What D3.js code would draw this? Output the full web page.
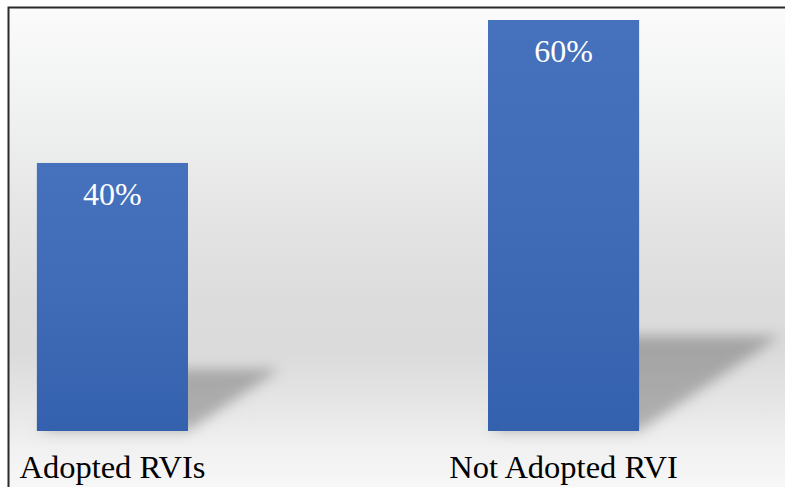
<!DOCTYPE html>
<html>
<head>
<meta charset="utf-8">
<script src="https://cdn.jsdelivr.net/npm/d3@7/dist/d3.min.js"></script>
<style>
  html, body { margin: 0; padding: 0; background: #ffffff; }
  svg { display: block; }
</style>
</head>
<body>
<svg id="chart" width="785" height="487"></svg>
<script>
// Share of respondents by adoption status
const categories = ["Adopted RVIs", "Not Adopted RVI"];
const shares = [40, 60];
const valueLabels = ["40%", "60%"];

const W = 785, H = 487;
const frame = { left: 8.5, top: 7.5 };
const baseline = 431;

const svg = d3.select("#chart");
const defs = svg.append("defs");

// Soft panel background: light at the top, grey through the middle, light again at the bottom
const bg = defs.append("linearGradient").attr("id", "bgGrad")
  .attr("x1", 0).attr("y1", 0).attr("x2", 0).attr("y2", 1);
[[0, "#fbfbfb"], [0.2, "#f1f2f2"], [0.42, "#e5e5e5"], [0.62, "#dcdcdc"], [0.72, "#dbdbdb"],
 [0.84, "#e7e7e7"], [0.92, "#f1f1f1"], [1, "#f7f7f7"]]
  .forEach(([o, c]) => bg.append("stop").attr("offset", o).attr("stop-color", c));

const barGrad = defs.append("linearGradient").attr("id", "barGrad")
  .attr("x1", 0).attr("y1", 0).attr("x2", 0).attr("y2", 1);
[[0, "#4672bd"], [0.5, "#406bb6"], [1, "#3461ae"]]
  .forEach(([o, c]) => barGrad.append("stop").attr("offset", o).attr("stop-color", c));

const blur = defs.append("filter").attr("id", "shadowBlur")
  .attr("x", "-30%").attr("y", "-30%").attr("width", "160%").attr("height", "160%");
blur.append("feGaussianBlur").attr("stdDeviation", 6.5);

svg.append("rect")
  .attr("x", frame.left).attr("y", frame.top)
  .attr("width", W - frame.left).attr("height", H - frame.top)
  .attr("fill", "url(#bgGrad)");

const x = d3.scaleBand()
  .domain(categories)
  .range([8, 668])
  .paddingInner(0.665)
  .paddingOuter(0.064);

const y = d3.scaleLinear()
  .domain([2.5, 60])
  .range([baseline, 20]);

const data = categories.map((c, i) => ({ cat: c, v: shares[i], label: valueLabels[i] }));

// Perspective shadows cast up and to the right from the foot of each bar
const shadowSkewX = 0.345, shadowSkewY = 0.232;
svg.append("g")
  .selectAll("path")
  .data(data)
  .join("path")
  .attr("d", d => {
    const x0 = x(d.cat), x1 = x0 + x.bandwidth();
    const h = baseline - y(d.v);
    const dx = h * shadowSkewX, dy = h * shadowSkewY;
    return `M${x0},${baseline} L${x1},${baseline} L${x1 + dx},${baseline - dy} L${x0 + dx},${baseline - dy} Z`;
  })
  .attr("fill", "#000")
  .attr("fill-opacity", 0.25)
  .attr("filter", "url(#shadowBlur)");

svg.append("g")
  .selectAll("rect")
  .data(data)
  .join("rect")
  .attr("x", d => x(d.cat))
  .attr("y", d => y(d.v))
  .attr("width", x.bandwidth())
  .attr("height", d => baseline - y(d.v))
  .attr("fill", "url(#barGrad)");

svg.append("g")
  .selectAll("text")
  .data(data)
  .join("text")
  .attr("x", d => x(d.cat) + x.bandwidth() / 2)
  .attr("y", d => y(d.v) + 42)
  .attr("text-anchor", "middle")
  .attr("fill", "#ffffff")
  .style("font-family", "'Liberation Serif', 'DejaVu Serif', serif")
  .style("font-size", "32px")
  .text(d => d.label);

// Category axis labels under the bars
const xAxis = d3.axisBottom(x).tickSize(0).tickPadding(0);
const axisG = svg.append("g")
  .attr("transform", `translate(0, ${baseline})`)
  .call(xAxis);
axisG.select(".domain").remove();
axisG.selectAll("text")
  .attr("dy", null)
  .attr("y", 47)
  .attr("fill", "#000")
  .style("font-family", "'Liberation Serif', 'DejaVu Serif', serif")
  .style("font-size", "32.5px");

// Frame lines along the top and left edges
svg.append("path")
  .attr("d", `M${frame.left},${H} L${frame.left},${frame.top} L${W},${frame.top}`)
  .attr("fill", "none")
  .attr("stroke", "#2b2b2b")
  .attr("stroke-width", 2);
</script>
</body>
</html>
